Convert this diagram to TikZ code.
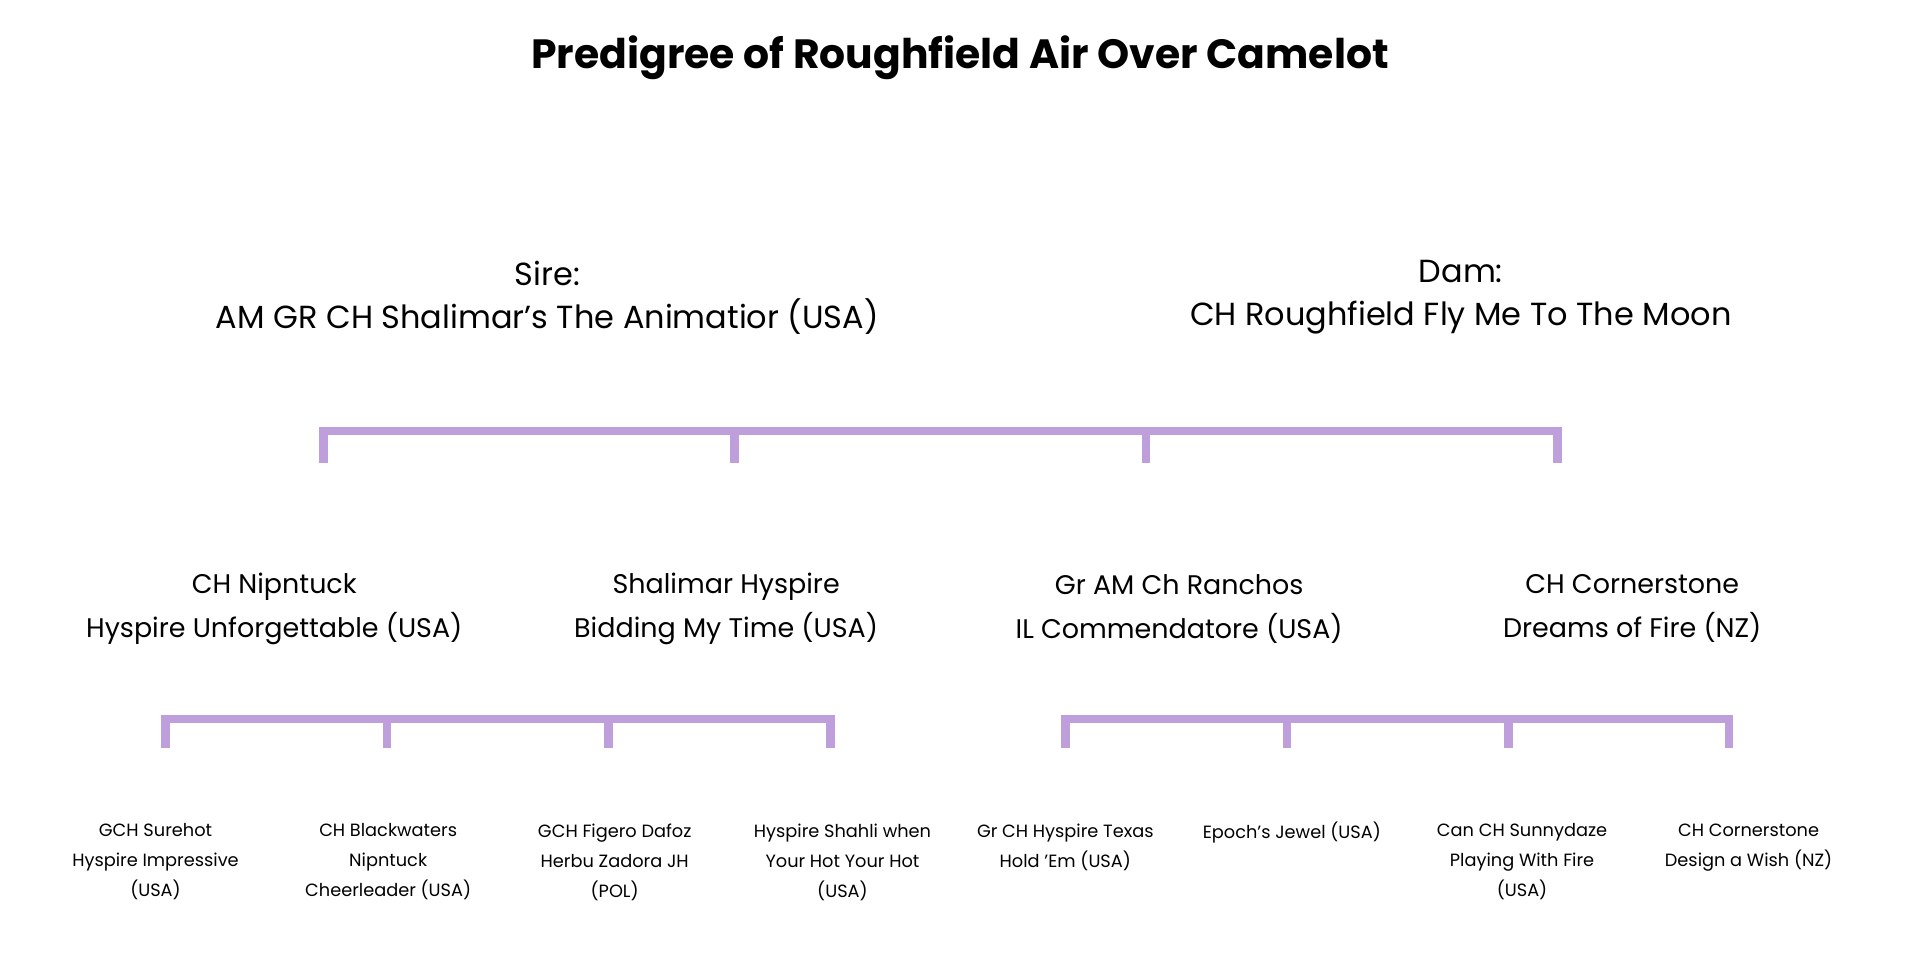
\documentclass[tikz,border=0pt]{standalone}
\usepackage{fontspec}
\setmainfont{Poppins}
\usetikzlibrary{calc}
\begin{document}
\begin{tikzpicture}[x=1pt,y=-1pt,
  bar/.style={draw=barc,line width=7pt},
  big/.style={align=center,font=\fontsize{26.1}{35}\selectfont},
  mid/.style={align=center,font=\fontsize{22}{36}\selectfont},
  small/.style={align=center,font=\fontsize{14.5}{24.5}\selectfont}]
\definecolor{barc}{HTML}{BE9FDC}
\useasboundingbox (0,0) rectangle (1568,793);
\node[font=\fontsize{33.4}{38}\bfseries\selectfont] (title) at (784,47) {Predigree of Roughfield Air Over Camelot};
\node[big] (sire) at (447,243) {Sire:\\AM GR CH Shalimar’s The Animatior (USA)};
\node[big] (dam) at (1193,243) {Dam:\\CH Roughfield Fly Me To The Moon};
% top bracket
\coordinate (t1) at (264,378); \coordinate (t2) at (600,378);
\coordinate (t3) at (936,378); \coordinate (t4) at (1272,378);
\draw[bar,line cap=butt] (t1) -- ++(0,-26) -- ($(t4)+(0,-26)$) -- (t4);
\draw[bar] (t2) -- ++(0,-26);
\draw[bar] (t3) -- ++(0,-26);
\node[mid] (p1) at (224,497) {CH Nipntuck\\Hyspire Unforgettable (USA)};
\node[mid] (p2) at (593,497) {Shalimar Hyspire\\Bidding My Time (USA)};
\node[mid] (p3) at (963,497) {Gr AM Ch Ranchos\\IL Commendatore (USA)};
\node[mid] (p4) at (1333,497) {CH Cornerstone\\Dreams of Fire (NZ)};
% bottom brackets
\coordinate (a1) at (135,611); \coordinate (a2) at (316,611);
\coordinate (a3) at (497,611); \coordinate (a4) at (678,611);
\draw[bar] (a1) -- ++(0,-24) -- ($(a4)+(0,-24)$) -- (a4);
\draw[bar] (a2) -- ++(0,-24);
\draw[bar] (a3) -- ++(0,-24);
\coordinate (b1) at (870,611); \coordinate (b2) at (1051,611);
\coordinate (b3) at (1232,611); \coordinate (b4) at (1412,611);
\draw[bar] (b1) -- ++(0,-24) -- ($(b4)+(0,-24)$) -- (b4);
\draw[bar] (b2) -- ++(0,-24);
\draw[bar] (b3) -- ++(0,-24);
\node[small,anchor=north] (g1) at (127,669) {GCH Surehot\\Hyspire Impressive\\(USA)};
\node[small,anchor=north] (g2) at (317,669) {CH Blackwaters\\Nipntuck\\Cheerleader (USA)};
\node[small,anchor=north] (g3) at (502,669) {GCH Figero Dafoz\\Herbu Zadora JH\\(POL)};
\node[small,anchor=north] (g4) at (688,669) {Hyspire Shahli when\\Your Hot Your Hot\\(USA)};
\node[small,anchor=north] (g5) at (870,669) {Gr CH Hyspire Texas\\Hold ’Em (USA)};
\node[small,anchor=north] (g6) at (1055,668) {Epoch’s Jewel (USA)};
\node[small,anchor=north] (g7) at (1243,669) {Can CH Sunnydaze\\Playing With Fire\\(USA)};
\node[small,anchor=north] (g8) at (1428,669) {CH Cornerstone\\Design a Wish (NZ)};
\end{tikzpicture}
\end{document}
